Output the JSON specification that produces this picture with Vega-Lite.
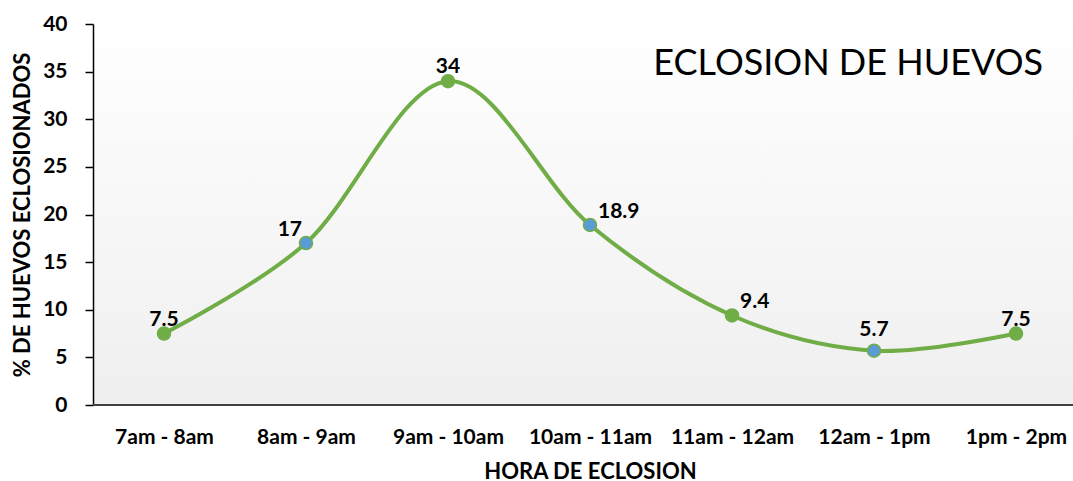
{
  "$schema": "https://vega.github.io/schema/vega-lite/v6.json",
  "autosize": "none",
  "width": 980,
  "height": 381,
  "padding": {"left": 93, "top": 24, "right": 0, "bottom": 76},
  "background": "#ffffff",
  "title": {
    "text": "ECLOSION DE HUEVOS",
    "anchor": "end",
    "frame": "group",
    "baseline": "alphabetic",
    "dx": -30,
    "dy": 102,
    "font": "Lato",
    "fontSize": 36,
    "fontWeight": "normal",
    "color": "#000000"
  },
  "data": {
    "values": [
      {"hora": "7am - 8am", "pct": 7.5},
      {"hora": "8am - 9am", "pct": 17},
      {"hora": "9am - 10am", "pct": 34},
      {"hora": "10am - 11am", "pct": 18.9},
      {"hora": "11am - 12am", "pct": 9.4},
      {"hora": "12am - 1pm", "pct": 5.7},
      {"hora": "1pm - 2pm", "pct": 7.5}
    ]
  },
  "encoding": {
    "x": {
      "field": "hora",
      "type": "ordinal",
      "sort": null,
      "scale": {"type": "point", "range": [71, 923], "padding": 0},
      "axis": {
        "title": "HORA DE ECLOSION",
        "labelAngle": 0,
        "domain": false,
        "ticks": false,
        "labelPadding": 21,
        "labelFont": "Lato",
        "labelFontSize": 21,
        "labelFontWeight": "bold",
        "labelColor": "#000000",
        "titleFont": "Lato",
        "titleFontSize": 22,
        "titleFontWeight": "bold",
        "titleColor": "#000000",
        "titlePadding": 14
      }
    },
    "y": {
      "field": "pct",
      "type": "quantitative",
      "scale": {"domain": [0, 40], "nice": false},
      "axis": {
        "title": "% DE HUEVOS ECLOSIONADOS",
        "values": [0, 5, 10, 15, 20, 25, 30, 35, 40],
        "grid": false,
        "domainColor": "#000000",
        "domainWidth": 1.5,
        "tickColor": "#000000",
        "tickWidth": 1.5,
        "tickSize": 8,
        "labelPadding": 18,
        "labelFont": "Lato",
        "labelFontSize": 21,
        "labelFontWeight": "bold",
        "labelColor": "#000000",
        "titleFont": "Lato",
        "titleFontSize": 22,
        "titleFontWeight": "bold",
        "titleColor": "#000000",
        "titlePadding": 8
      }
    }
  },
  "layer": [
    {
      "mark": {"type": "rule", "stroke": "#404040", "strokeWidth": 2},
      "encoding": {"y": {"datum": 0}, "x": null}
    },
    {
      "mark": {"type": "line", "interpolate": "cardinal", "stroke": "#70AD47", "strokeWidth": 4}
    },
    {
      "mark": {"type": "point", "filled": true, "size": 170, "stroke": "#70AD47", "strokeWidth": 1.5, "opacity": 1},
      "encoding": {
        "fill": {
          "condition": {"test": "indexof(['8am - 9am', '10am - 11am', '12am - 1pm'], datum.hora) >= 0", "value": "#5B9BD5"},
          "value": "#70AD47"
        }
      }
    },
    {
      "transform": [{"filter": "indexof(['7am - 8am', '9am - 10am', '1pm - 2pm'], datum.hora) >= 0"}],
      "mark": {"type": "text", "align": "center", "baseline": "alphabetic", "dy": -8, "font": "Lato", "fontSize": 21, "fontWeight": "bold", "color": "#000000"},
      "encoding": {"text": {"field": "pct", "type": "quantitative"}}
    },
    {
      "transform": [{"filter": "datum.hora == '12am - 1pm'"}],
      "mark": {"type": "text", "align": "center", "baseline": "alphabetic", "dy": -15, "font": "Lato", "fontSize": 21, "fontWeight": "bold", "color": "#000000"},
      "encoding": {"text": {"field": "pct", "type": "quantitative"}}
    },
    {
      "transform": [{"filter": "datum.hora == '8am - 9am'"}],
      "mark": {"type": "text", "align": "right", "baseline": "alphabetic", "dx": -4, "dy": -7, "font": "Lato", "fontSize": 21, "fontWeight": "bold", "color": "#000000"},
      "encoding": {"text": {"field": "pct", "type": "quantitative"}}
    },
    {
      "transform": [{"filter": "indexof(['10am - 11am', '11am - 12am'], datum.hora) >= 0"}],
      "mark": {"type": "text", "align": "left", "baseline": "alphabetic", "dx": 8, "dy": -7, "font": "Lato", "fontSize": 21, "fontWeight": "bold", "color": "#000000"},
      "encoding": {"text": {"field": "pct", "type": "quantitative"}}
    }
  ],
  "config": {
    "view": {
      "stroke": null,
      "fill": {
        "gradient": "linear",
        "x1": 0, "y1": 0, "x2": 0, "y2": 1,
        "stops": [
          {"offset": 0, "color": "#ffffff"},
          {"offset": 1, "color": "#efefef"}
        ]
      }
    }
  }
}
